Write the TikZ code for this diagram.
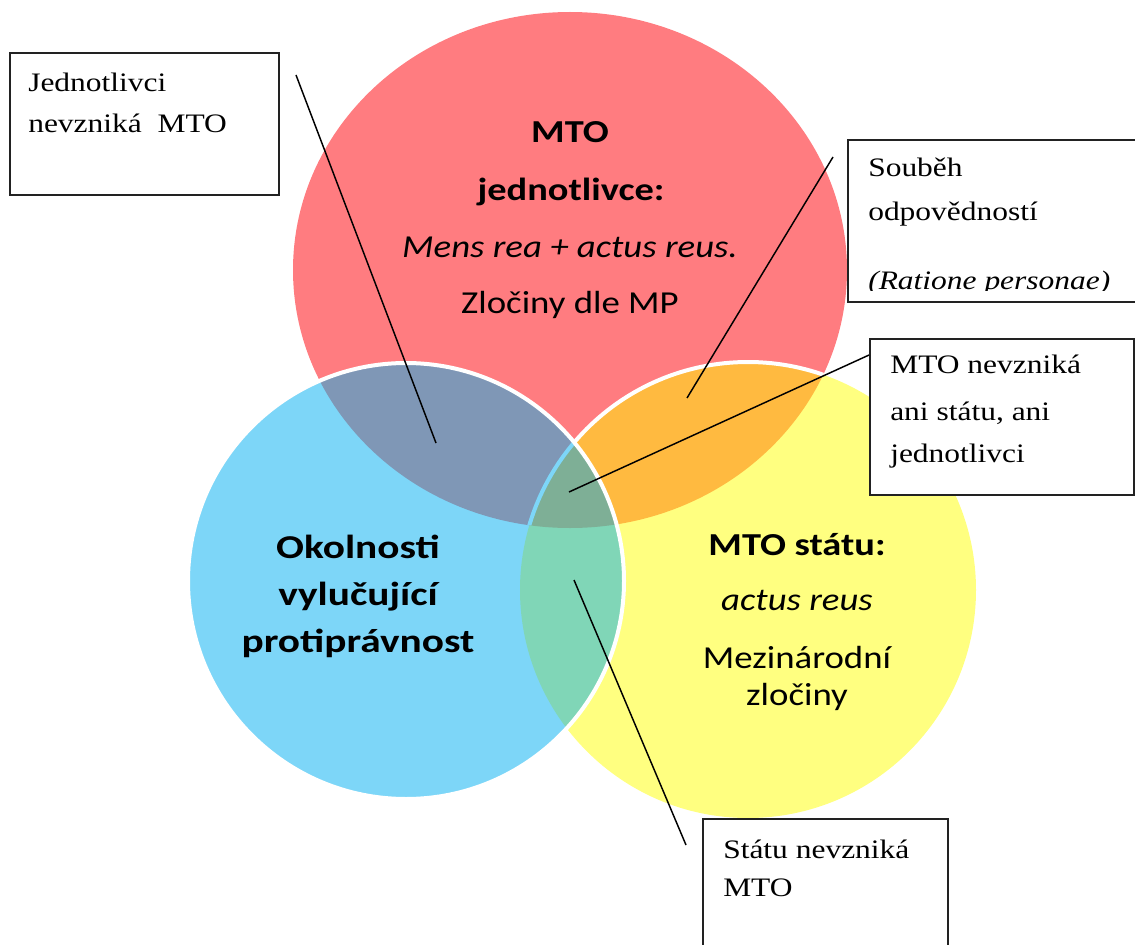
\documentclass[tikz,border=0pt]{standalone}
\usepackage{fontspec}
\setmainfont{Liberation Serif}
\newfontfamily\calfont{Carlito}
\definecolor{cred}{HTML}{FF7C80}
\definecolor{cblue}{HTML}{7DD6F8}
\definecolor{cyel}{HTML}{FFFF80}
\definecolor{crb}{HTML}{7F97B6}
\definecolor{cry}{HTML}{FFBA40}
\definecolor{cby}{HTML}{80D6B7}
\definecolor{crby}{HTML}{7EAF96}
\definecolor{cborder}{HTML}{222222}
\newcommand\hsx[1]{\scalebox{1.18}[1]{#1}}
\newcommand\hcx[1]{\scalebox{1.15}[1]{#1}}
\newcommand\hbx[1]{\scalebox{1.2}[1]{#1}}
\newcommand\hox[1]{\scalebox{1.24}[1]{#1}}
\tikzset{
  boxst/.style={draw=cborder, line width=1.4pt, fill=white, inner sep=0pt},
  boxtxt/.style={anchor=base west, inner sep=0pt, font=\fontsize{20}{24}\selectfont},
  ctxt/.style={anchor=base, inner sep=0pt, font=\calfont\fontsize{24}{29}\selectfont},
  otxt/.style={anchor=base, inner sep=0pt, font=\calfont\bfseries\fontsize{25}{30}\selectfont},
  conn/.style={draw=black, line width=1.1pt},
  whiteline/.style={draw=white, line width=3pt}
}
\begin{document}
\begin{tikzpicture}[x=0.75pt,y=-0.75pt]
\useasboundingbox (0,0) rectangle (1135,945);
% red circle
\fill[cred] (570,270) ellipse [x radius=277, y radius=258];
% yellow circle
\fill[cyel] (748,590) circle [radius=228];
\begin{scope}
  \clip (570,270) ellipse [x radius=277, y radius=258];
  \fill[cry] (748,590) circle [radius=228];
  \draw[whiteline] (748,590) circle [radius=228];
\end{scope}
% blue circle
\fill[cblue] (406,581) circle [radius=218];
\begin{scope}
  \clip (406,581) circle [radius=218];
  \begin{scope}
    \clip (570,270) ellipse [x radius=277, y radius=258];
    \fill[crb] (406,581) circle [radius=218];
  \end{scope}
  \begin{scope}
    \clip (748,590) circle [radius=228];
    \fill[cby] (406,581) circle [radius=218];
    \clip (570,270) ellipse [x radius=277, y radius=258];
    \fill[crby] (406,581) circle [radius=218];
  \end{scope}
  \clip (570,270) ellipse [x radius=277, y radius=258];
  \draw[draw=cblue, line width=3pt] (748,590) circle [radius=228];
\end{scope}
\draw[whiteline] (406,581) circle [radius=218];

% circle texts
\node[ctxt] (r1) at (570,143) {\hbx{\bfseries MTO}};
\node[ctxt] (r2) at (571,200) {\hbx{\bfseries jednotlivce:}};
\node[ctxt] (r3) at (570,257) {\hcx{\itshape Mens rea + actus reus.}};
\node[ctxt] (r4) at (570,313) {\hcx{Zločiny dle MP}};

\node[otxt] (o1) at (358,558) {\hox{Okolnosti}};
\node[otxt] (o2) at (358,605) {\hox{vylučující}};
\node[otxt] (o3) at (358,652) {\hox{protiprávnost}};

\node[ctxt] (y1) at (797,555) {\hbx{\bfseries MTO státu:}};
\node[ctxt] (y2) at (797,610) {\hcx{\itshape actus reus}};
\node[ctxt] (y3) at (797,668) {\hcx{Mezinárodní}};
\node[ctxt] (y4) at (797,705) {\hcx{zločiny}};

% boxes
\node[boxst, minimum width=201.75pt, minimum height=106.5pt] (box1) at (144.5,124) {};
\node[boxst, minimum width=216.75pt, minimum height=121.5pt] (box2) at (992.5,221) {};
\node[boxst, minimum width=198pt, minimum height=117pt] (box3) at (1002,417) {};
\node[boxst, minimum width=183.75pt, minimum height=98.25pt] (box4) at (825.5,884.5) {};

\node[boxtxt] (t1a) at (28,92) {\hsx{Jednotlivci}};
\node[boxtxt] (t1b) at (28,133) {\hsx{nevzniká\ \ MTO}};

\node[boxtxt] (t2a) at (868,177) {\hsx{Souběh}};
\node[boxtxt] (t2b) at (868,220) {\hsx{odpovědností}};
\begin{scope}
  \clip (850,142) rectangle (1135,290);
  \node[boxtxt] (t2c) at (868,289) {\hsx{\itshape (Ratione personae)}};
\end{scope}

\node[boxtxt] (t3a) at (890,373) {\hsx{MTO nevzniká}};
\node[boxtxt] (t3b) at (890,420) {\hsx{ani státu, ani}};
\node[boxtxt] (t3c) at (890,462) {\hsx{jednotlivci}};

\node[boxtxt] (t4a) at (723,858) {\hsx{Státu nevzniká}};
\node[boxtxt] (t4b) at (723,896) {\hsx{MTO}};

% connectors
\coordinate (c1s) at (296,75);
\coordinate (c1e) at (436,443);
\coordinate (c2s) at (833,157);
\coordinate (c2e) at (687,398);
\coordinate (c3s) at (box3.west |- 0,355);
\coordinate (c3e) at (569,492);
\coordinate (c4s) at (574,580);
\coordinate (c4e) at (686,845);
\draw[conn] (c1s) -- (c1e);
\draw[conn] (c2s) -- (c2e);
\draw[conn] (c3s) -- (c3e);
\draw[conn] (c4s) -- (c4e);
\end{tikzpicture}
\end{document}
